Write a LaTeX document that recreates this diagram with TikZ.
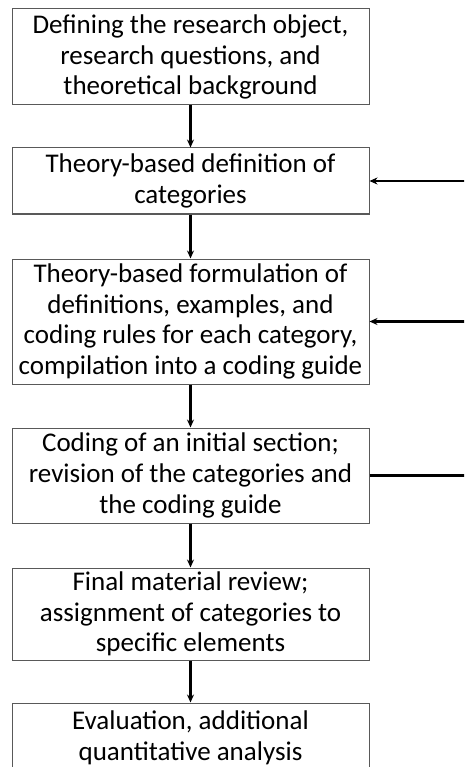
\documentclass[tikz,border=0pt]{standalone}
\usepackage{fontspec}
\setmainfont{Carlito}
\usetikzlibrary{arrows.meta}
\tikzset{
  box/.style={draw=black!65, line width=1pt, minimum width=357pt, inner sep=0pt,
    align=center, font=\fontsize{27}{30.7}\selectfont, fill=white},
  flow/.style={line width=2.1pt, -{Stealth[length=8pt,width=7pt]}},
  back/.style={line width=2.1pt},
}
\begin{document}
\begin{tikzpicture}[x=1pt,y=-1pt]
\useasboundingbox (0,0) rectangle (464,767);
\clip (0,0) rectangle (464,767);
\node[box, minimum height=96pt] (b1) at (190.5,57) {Defining the research object,\\research questions, and\\theoretical background};
\node[box, minimum height=66pt] (b2) at (190.5,181) {Theory-based definition of\\categories};
\node[box, minimum height=125pt] (b3) at (190.5,321.5) {Theory-based formulation of\\definitions, examples, and\\coding rules for each category,\\compilation into a coding guide};
\node[box, minimum height=95pt] (b4) at (190.5,475.5) {Coding of an initial section;\\revision of the categories and\\the coding guide};
\node[box, minimum height=92pt] (b5) at (190.5,614) {Final material review;\\assignment of categories to\\specific elements};
\node[box, minimum height=70pt] (b6) at (190.5,738) {Evaluation, additional\\quantitative analysis};
\coordinate (edge) at (470,0);
\coordinate (r2) at (b2.east -| edge);
\coordinate (r3) at (b3.east -| edge);
\coordinate (r4) at (b4.east -| edge);
\draw[flow] (b1) -- (b2);
\draw[flow] (b2) -- (b3);
\draw[flow] (b3) -- (b4);
\draw[flow] (b4) -- (b5);
\draw[flow] (b5) -- (b6);
\draw[back] (b4.east) -- (r4);
\draw[flow] (r3) -- (b3.east);
\draw[flow] (r2) -- (b2.east);
\end{tikzpicture}
\end{document}
